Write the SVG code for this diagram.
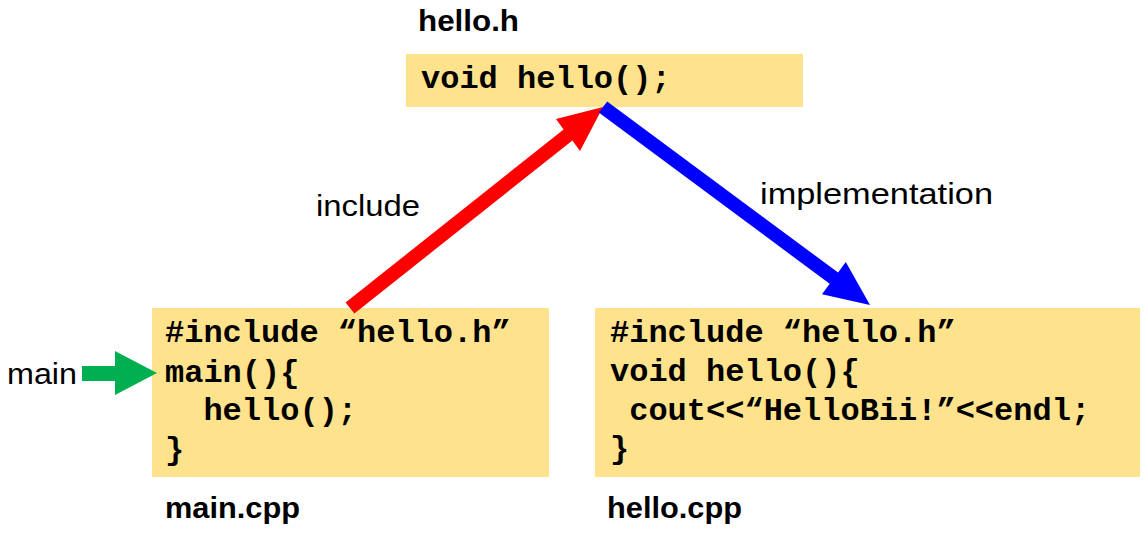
<svg xmlns="http://www.w3.org/2000/svg" width="1148" height="542" viewBox="0 0 1148 542">
<style>
.box{fill:#FFE38C}
.code{font-family:"Liberation Mono","Courier New",monospace;font-weight:bold;font-size:32px;fill:#000;white-space:pre}
.title{font-family:"Liberation Sans",Arial,sans-serif;font-weight:bold;font-size:29px;fill:#000}
.lbl{font-family:"Liberation Sans",Arial,sans-serif;font-size:29px;fill:#000}
</style>
<rect width="1148" height="542" fill="#fff"/>
<g id="hello_h">
<text class="title" x="418" y="31" textLength="101" lengthAdjust="spacingAndGlyphs">hello.h</text>
<rect class="box" x="406" y="54" width="397" height="53"/>
<text class="code" x="421" y="88">void hello();</text>
</g>
<g id="main_cpp">
<rect class="box" x="152" y="308" width="397" height="169"/>
<text class="code" x="165" y="342" xml:space="preserve">#include “hello.h”</text>
<text class="code" x="165" y="382" xml:space="preserve">main(){</text>
<text class="code" x="165" y="420" xml:space="preserve">  hello();</text>
<text class="code" x="165" y="459" xml:space="preserve">}</text>
<text class="title" x="165" y="518" textLength="135" lengthAdjust="spacingAndGlyphs">main.cpp</text>
</g>
<g id="hello_cpp">
<rect class="box" x="595" y="308" width="545" height="169"/>
<text class="code" x="610" y="342" xml:space="preserve">#include “hello.h”</text>
<text class="code" x="610" y="381" xml:space="preserve">void hello(){</text>
<text class="code" x="610" y="420" xml:space="preserve"> cout&lt;&lt;“HelloBii!”&lt;&lt;endl;</text>
<text class="code" x="610" y="458" xml:space="preserve">}</text>
<text class="title" x="607" y="518" textLength="135" lengthAdjust="spacingAndGlyphs">hello.cpp</text>
</g>
<g id="main_entry">
<text class="lbl" x="7" y="384" textLength="70" lengthAdjust="spacingAndGlyphs">main</text>
</g>
<g id="connectors">
<polygon fill="#00B050" points="82,366 115,366 115,351 157,373 115,395 115,381 82,381"/>
<polygon fill="#FF0000" points="345.6,302.5 563.6,129.5 556,119 603,107 580,151 572.4,140.5 354.4,313.5"/>
<polygon fill="#0000FF" points="607.2,101.4 838.1,272.6 845.8,262.1 870,305 822,294.3 829.7,283.8 598.8,112.6"/>
<text class="lbl" x="316" y="216" textLength="104" lengthAdjust="spacingAndGlyphs">include</text>
<text class="lbl" x="760" y="204" textLength="233" lengthAdjust="spacingAndGlyphs">implementation</text>
</g>
</svg>
